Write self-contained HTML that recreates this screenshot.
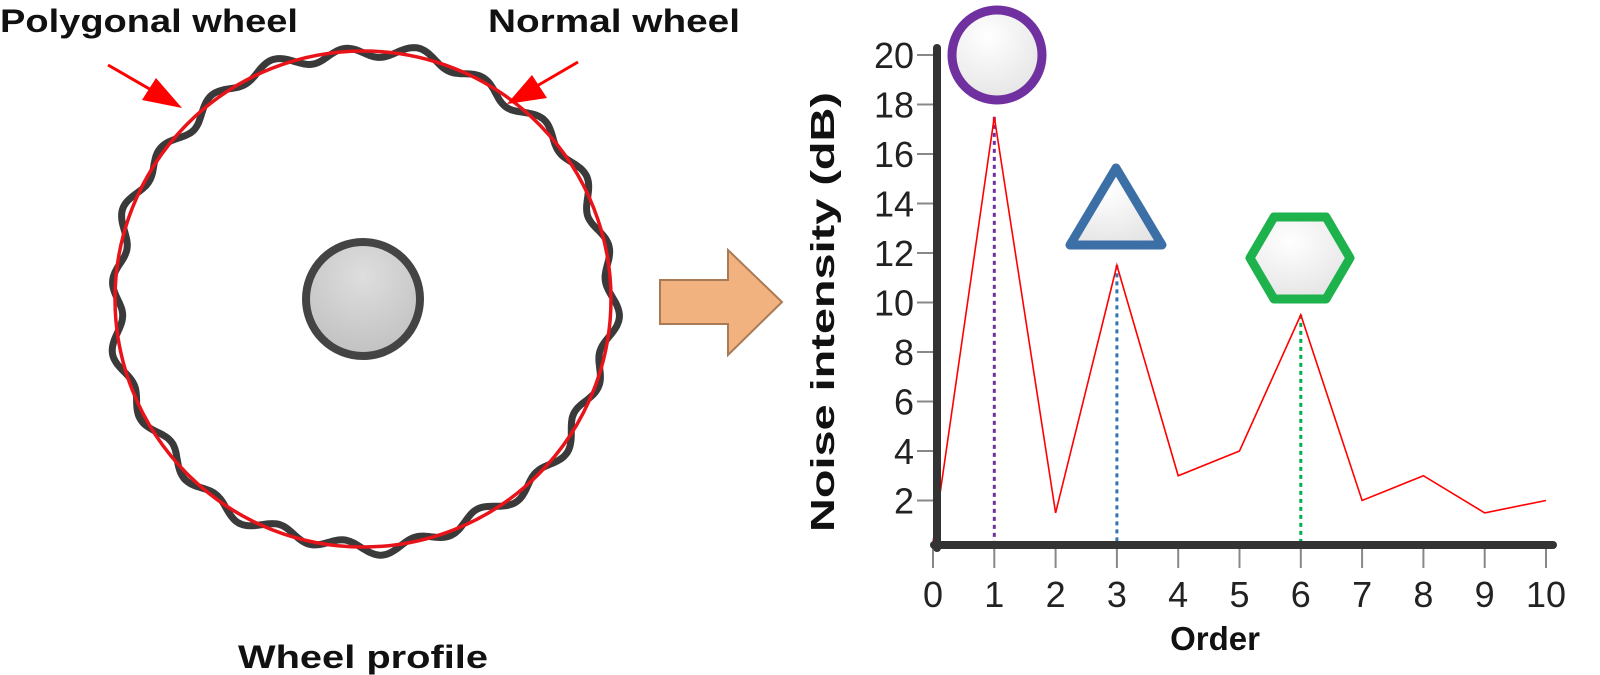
<!DOCTYPE html>
<html><head><meta charset="utf-8"><style>
html,body{margin:0;padding:0;background:#fff;}
svg{display:block;font-family:"Liberation Sans",sans-serif;}
</style></head><body>
<svg id="fig" width="1600" height="675" viewBox="0 0 1600 675">
<defs>
<radialGradient id="gfill" cx="0.4" cy="0.3" r="0.8"><stop offset="0" stop-color="#ffffff"/><stop offset="1" stop-color="#e2e2e2"/></radialGradient>
<radialGradient id="hub" cx="0.5" cy="0.3" r="0.8"><stop offset="0" stop-color="#dedede"/><stop offset="1" stop-color="#bdbdbd"/></radialGradient>
</defs>
<g>
<text x="0" y="32" font-size="32" font-weight="bold" fill="#111" textLength="298" lengthAdjust="spacingAndGlyphs">Polygonal wheel</text>
<text x="488" y="32" font-size="32" font-weight="bold" fill="#111" textLength="252" lengthAdjust="spacingAndGlyphs">Normal wheel</text>
<path id="profile" d="" fill="none" stroke="#3a3a3a" stroke-width="7"/>
<circle cx="363" cy="299" r="248" fill="none" stroke="#e8141a" stroke-width="3.5"/>
<circle cx="363" cy="299" r="57" fill="url(#hub)" stroke="#444" stroke-width="8"/>
<line x1="108" y1="65" x2="160" y2="95" stroke="#f00" stroke-width="3"/>
<polygon points="182,108 142,100 156,78" fill="#f00"/>
<line x1="578" y1="62" x2="530" y2="90" stroke="#f00" stroke-width="3"/>
<polygon points="507,104 532,75 547,98" fill="#f00"/>
<text x="238" y="668" font-size="32" font-weight="bold" fill="#111" textLength="250" lengthAdjust="spacingAndGlyphs">Wheel profile</text>
</g>
<polygon points="660,280 728,280 728,250 782,302 728,355 728,324 660,324" fill="#f2b27f" stroke="#a87a55" stroke-width="2"/>
<g id="chart"></g>
</svg>
<script>
const orders=[0,1,2,3,4,5,6,7,8,9,10];
const intensity=[0.3,17.5,1.5,11.5,3,4,9.5,2,3,1.5,2];
const yTicks=[2,4,6,8,10,12,14,16,18,20];
const xTicks=[0,1,2,3,4,5,6,7,8,9,10];
const peaks=[1,3,6];
const peakColors=["#7030a0","#2e75b6","#00b050"];
const NS="http://www.w3.org/2000/svg";
function X(v){return 933+61.3*v;}
function Y(v){return 550-24.75*v;}
function mk(tag,attrs,parent){const e=document.createElementNS(NS,tag);for(const k in attrs)e.setAttribute(k,attrs[k]);parent.appendChild(e);return e;}
(function(){
 let d="";const cx=363,cy=299;
 for(let i=0;i<=720;i++){const t=i/720*2*Math.PI;const r=248+6*Math.sin(22*t)+3*Math.sin(9*t+1);
 const x=cx+r*Math.cos(t),y=cy+r*Math.sin(t);d+=(i?"L":"M")+x.toFixed(1)+","+y.toFixed(1);}
 document.getElementById('profile').setAttribute('d',d+"Z");
})();
const g=document.getElementById('chart');
yTicks.forEach(v=>{
 const l=mk('line',{x1:917,x2:937,y1:Y(v),y2:Y(v),stroke:'#888','stroke-width':2},g);
 
 
 const t=mk('text',{x:914,y:Y(v)+13,'font-size':36,'text-anchor':'end',fill:'#222'},g);
 t.textContent=v;
 
 
});
xTicks.forEach(v=>{
 const l=mk('line',{x1:X(v),x2:X(v),y1:545,y2:568,stroke:'#888','stroke-width':2},g);
 
 
 const t=mk('text',{x:X(v),y:607,'font-size':36,'text-anchor':'middle',fill:'#222'},g);
 t.textContent=v;
 
 
});
peaks.forEach((p,i)=>{
 const l=mk('line',{x1:X(p),x2:X(p),y1:Y(intensity[p]),y2:545,stroke:peakColors[i],'stroke-width':3,'stroke-dasharray':'4,4'},g);
 
 
});
const pl=mk('polyline',{points:orders.map((o,i)=>X(o)+','+Y(intensity[i])).join(' '),fill:'none',stroke:'#f00','stroke-width':1.6},g);


const ya=mk('line',{x1:937,x2:937,y1:48,y2:548,stroke:'#333','stroke-width':8,'stroke-linecap':'round'},g);


const xa=mk('line',{x1:934,x2:1553,y1:545,y2:545,stroke:'#333','stroke-width':8,'stroke-linecap':'round'},g);


const c=mk('circle',{cx:997,cy:55,r:45,fill:'url(#gfill)',stroke:'#7030a0','stroke-width':9},g);


const tr=mk('polygon',{points:'1116,168 1070,245 1162,245',fill:'url(#gfill)',stroke:'#3c6fa5','stroke-width':9,'stroke-linejoin':'round'},g);


const hx=mk('polygon',{points:'1250,258 1274,217 1326,217 1350,258 1326,299 1274,299',fill:'url(#gfill)',stroke:'#1db24b','stroke-width':9,'stroke-linejoin':'round'},g);


const yt=mk('text',{x:0,y:0,'font-size':33,'font-weight':'bold','text-anchor':'middle',fill:'#111',textLength:440,lengthAdjust:'spacingAndGlyphs',transform:'translate(834,312) rotate(-90)'},g);
yt.textContent='Noise intensity (dB)';


const xt=mk('text',{x:1215,y:650,'font-size':33,'font-weight':'bold','text-anchor':'middle',fill:'#111'},g);
xt.textContent='Order';


</script>
</body></html>
